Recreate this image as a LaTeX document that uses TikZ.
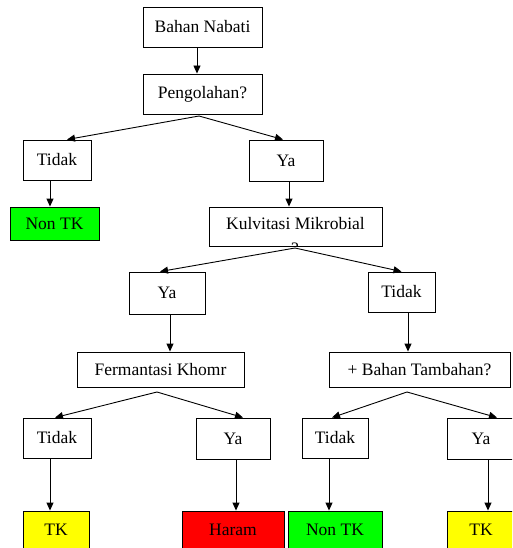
\documentclass[tikz,border=0pt]{standalone}
\usepackage{fontspec}
\setmainfont{Liberation Serif}
\usetikzlibrary{arrows.meta}
\tikzset{%
    box/.style={draw, rectangle, line width=0.9pt, inner sep=0pt, font=\fontsize{17.5}{20}\selectfont},
    boxg/.style={box, fill={rgb,255:red,0;green,255;blue,0}},
    boxy/.style={box, fill={rgb,255:red,255;green,255;blue,0}},
    boxr/.style={box, fill={rgb,255:red,255;green,0;blue,0}},
    arr/.style={line width=0.9pt, -{Triangle[width=7pt,length=8pt]}},
}

\begin{document}
\begin{tikzpicture}[x=1pt, y=-1pt]
    \useasboundingbox (0,0) rectangle (512,548);
    \clip (0,0) rectangle (512,548);
    \node [box, minimum width=119, minimum height=40] (bahan) at (202.5,27) {Bahan Nabati};
    \node [box, minimum width=119, minimum height=40] (peng) at (202.5,94) {Pengolahan?};
    \node [box, minimum width=68, minimum height=40] (t1) at (57,160) {Tidak};
    \node [box, minimum width=74, minimum height=41] (y1) at (286,160.5) {Ya};
    \node [boxg, minimum width=89, minimum height=33] (nontka) at (54.5,223.5) {Non TK};
    \node [box, minimum width=173, minimum height=39, text depth=7pt] (kulv) at (295.5,226.5) {Kulvitasi Mikrobial};
    \node [box, minimum width=76, minimum height=42] (y2) at (167,293) {Ya};
    \node [box, minimum width=67, minimum height=40] (t2) at (401.5,292) {Tidak};
    \node [box, minimum width=167, minimum height=35] (ferm) at (160.5,369.5) {Fermantasi Khomr};
    \node [box, minimum width=181, minimum height=35] (tamb) at (419.5,369.5) {+ Bahan Tambahan?};
    \node [box, minimum width=68, minimum height=40] (t3) at (57,438) {Tidak};
    \node [box, minimum width=74, minimum height=41] (y3) at (233,438.5) {Ya};
    \node [box, minimum width=66, minimum height=40] (t4) at (335,438) {Tidak};
    \node [box, minimum width=68, minimum height=41] (y4) at (481,438.5) {Ya};
    \node [boxy, minimum width=66, minimum height=38] (tka) at (56,530) {TK};
    \node [boxr, minimum width=102, minimum height=38] (haram) at (233,530) {Haram};
    \node [boxg, minimum width=94, minimum height=38] (nontkb) at (335,530) {Non TK};
    \node [boxy, minimum width=68, minimum height=38] (tkb) at (481,530) {TK};
    \begin{scope}
        \clip (kulv.north west) rectangle (kulv.south east);
        \node [font=\fontsize{17.5}{20}\selectfont, anchor=north] (kulvq) at (295,239) {?};
    \end{scope}
    \coordinate (pb) at (199,116);
    \coordinate (kb) at (295,248);
    \coordinate (fb) at (157,392);
    \coordinate (tb) at (407,392);
    \draw [arr] ([xshift=-5.5]bahan.south) -- ([xshift=-5.5]peng.north);
    \draw [arr] (pb) -- ([xshift=10]t1.north);
    \draw [arr] (pb) -- ([xshift=-3]y1.north);
    \draw [arr] ([xshift=-7]t1.south) -- ([xshift=-4.5]nontka.north);
    \draw [arr] ([xshift=3]y1.south) -- ([xshift=-6.5]kulv.north);
    \draw [arr] (kb) -- ([xshift=-7]y2.north);
    \draw [arr] (kb) -- (t2.north);
    \draw [arr] ([xshift=3]y2.south) -- ([xshift=9.5]ferm.north);
    \draw [arr] ([xshift=6.5]t2.south) -- ([xshift=-11.5]tamb.north);
    \draw [arr] (fb) -- ([xshift=-2]t3.north);
    \draw [arr] (fb) -- ([xshift=10]y3.north);
    \draw [arr] (tb) -- ([xshift=-3]t4.north);
    \draw [arr] (tb) -- ([xshift=16]y4.north);
    \draw [arr] ([xshift=-7]t3.south) -- ([xshift=-6]tka.north);
    \draw [arr] ([xshift=3]y3.south) -- ([xshift=3]haram.north);
    \draw [arr] ([xshift=-6]t4.south) -- ([xshift=-6]nontkb.north);
    \draw [arr] ([xshift=7]y4.south) -- ([xshift=7]tkb.north);
\end{tikzpicture}
\end{document}
